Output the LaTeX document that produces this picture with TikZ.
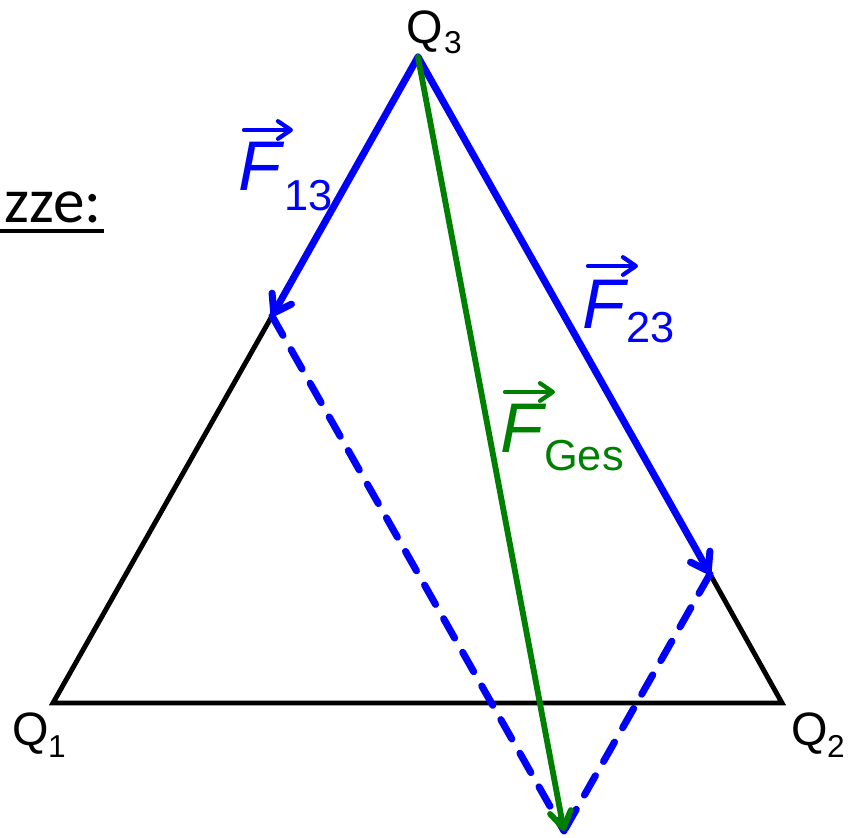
\documentclass[tikz,border=0pt]{standalone}
\usepackage{fontspec}
\setmainfont{Liberation Sans}
\newfontfamily\headfont{Carlito}
\usetikzlibrary{arrows.meta}
\definecolor{fblue}{RGB}{0,0,255}
\definecolor{fgreen}{RGB}{0,128,0}
\begin{document}
\begin{tikzpicture}[x=0.03cm,y=-0.03cm,
  side/.style={draw=black,line width=4.2pt,line join=miter},
  force/.style={draw=fblue,line width=6pt,line cap=round,
    -{Straight Barb[length=14pt,width=19pt,round]}},
  result/.style={draw=fgreen,line width=5pt,line cap=round,
    -{Straight Barb[length=14pt,width=18pt,round]}},
  helper/.style={draw=fblue,line width=6pt,line cap=round,dash pattern=on 19pt off 14pt},
  vecarrow/.style={line width=3.6pt,line cap=round,
    -{Straight Barb[length=11pt,width=15pt,round]}},
  qlabel/.style={inner sep=0pt,anchor=base west,font=\fontsize{40}{40}\selectfont},
  qsub/.style={inner sep=0pt,anchor=base west,font=\fontsize{27}{27}\selectfont},
  flabel/.style={inner sep=0pt,anchor=base west,font=\fontsize{60}{60}\selectfont\itshape},
  fsub/.style={inner sep=0pt,anchor=base west,font=\fontsize{37}{37}\selectfont},
]
\useasboundingbox (0,0) rectangle (851,837);
% points
\coordinate (Q1) at (53,703);
\coordinate (Q2) at (782,703);
\coordinate (Q3) at (418,57);
\coordinate (P13) at (272,316);
\coordinate (P23) at (710,574);
\coordinate (R) at (564,831);
% triangle
\draw[side] (P13) -- (Q1) -- (Q2) -- (P23);
% helper lines
\draw[helper] (P13) -- (R);
\draw[helper] (P23) -- (R);
% forces
\draw[force] (Q3) -- (P13);
\draw[force] (Q3) -- (P23);
\draw[result] (Q3) -- (R);
% charge labels
\node[qlabel] (q3) at (406,43) {Q};
\node[qsub] (q3s) at (444,53) {3};
\node[qlabel] (q1) at (12,745) {Q};
\node[qsub] (q1s) at (48,757) {1};
\node[qlabel] (q2) at (791,745) {Q};
\node[qsub] (q2s) at (827,757) {2};
% sketch heading
\node[inner sep=0pt,anchor=base east,font=\headfont\fontsize{54}{54}\selectfont] (head) at (102,222) {zze:};
\coordinate (ul1) at (0,231);
\coordinate (ul2) at (104,231);
\draw[line width=3.2pt] (ul1) -- (ul2);
% force labels
\node[flabel,text=fblue] (f13) at (238,190) {F};
\node[fsub,text=fblue] (f13s) at (284,210) {13};
\coordinate (a13s) at (244,130);
\coordinate (a13e) at (293,130);
\draw[vecarrow,fblue] (a13s) -- (a13e);
\node[flabel,text=fblue] (f23) at (582,328) {F};
\node[fsub,text=fblue] (f23s) at (626,342) {23};
\coordinate (a23s) at (588,266);
\coordinate (a23e) at (638,266);
\draw[vecarrow,fblue] (a23s) -- (a23e);
\node[flabel,text=fgreen] (fg) at (500,452) {F};
\node[fsub,text=fgreen] (fgs) at (544,470) {Ges};
\coordinate (ags) at (505,392);
\coordinate (age) at (555,392);
\draw[vecarrow,fgreen] (ags) -- (age);
\end{tikzpicture}
\end{document}
